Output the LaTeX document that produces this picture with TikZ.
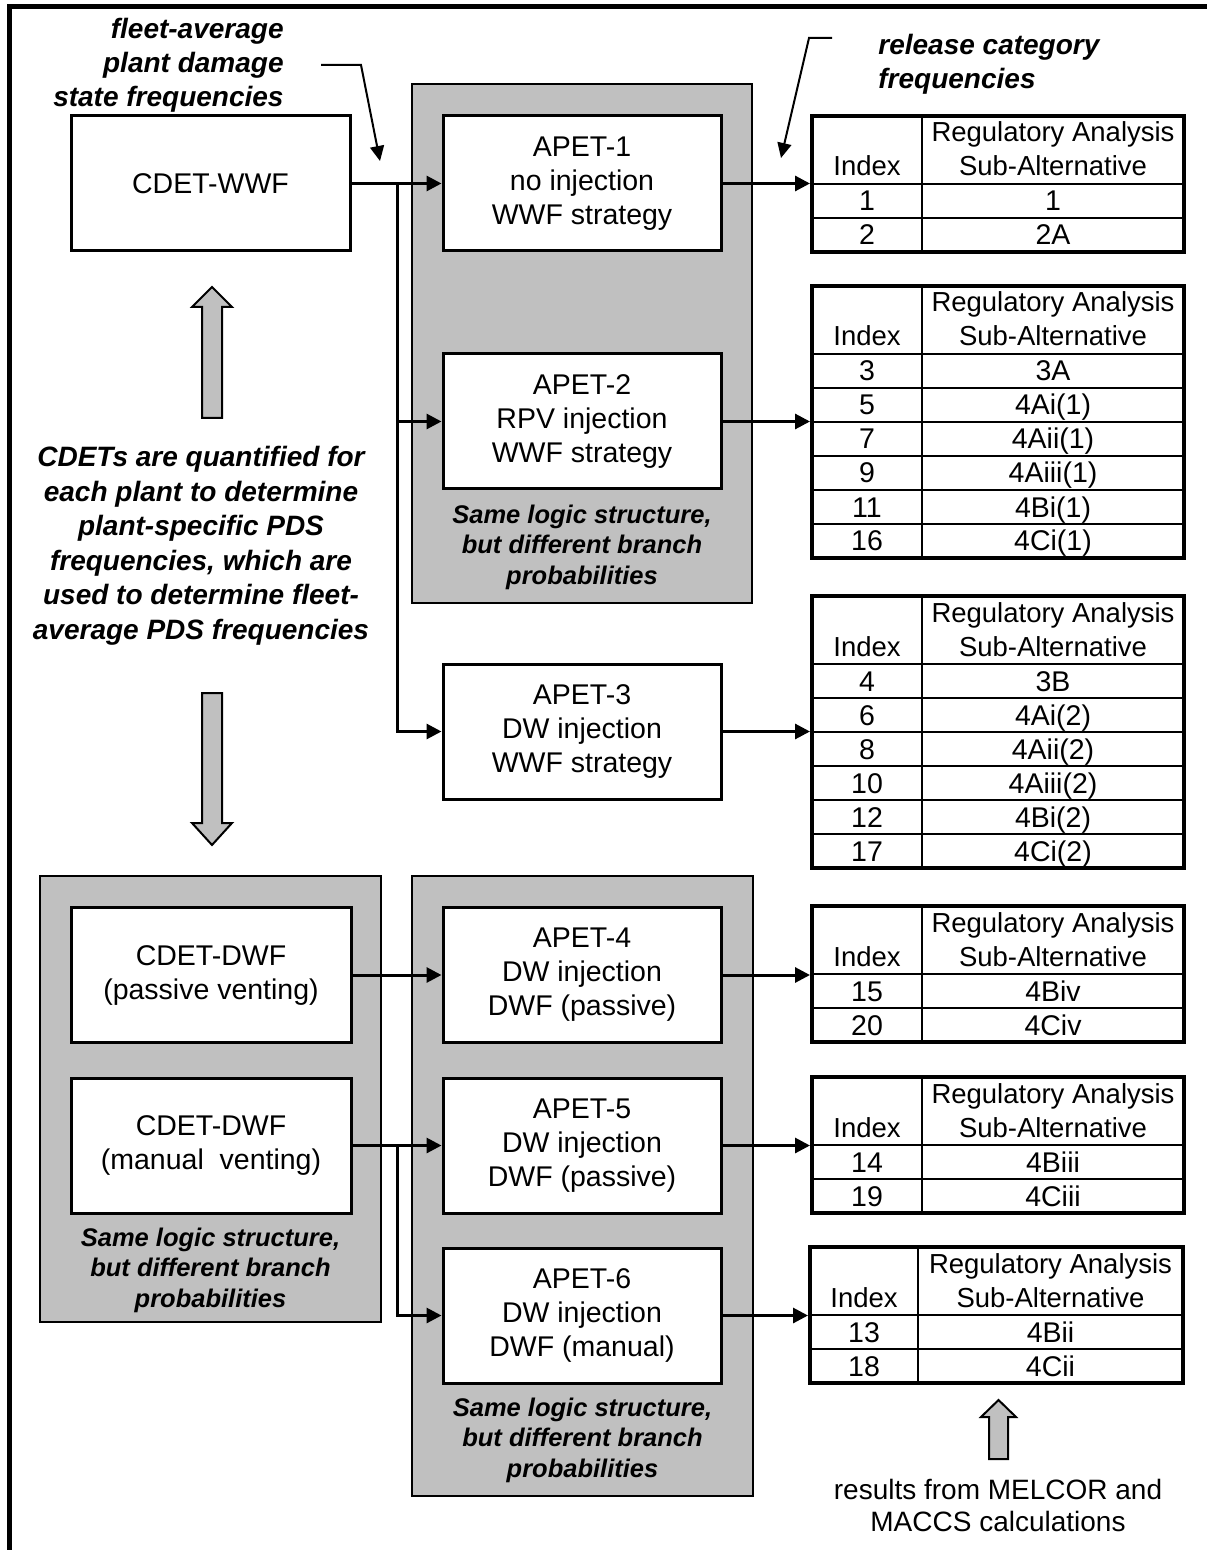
\documentclass[tikz,border=0pt]{standalone}
\usepackage{fontspec}
\setmainfont{Liberation Sans}
\usetikzlibrary{arrows.meta,fit}

\definecolor{panel}{HTML}{C0C0C0}

\tikzset{
  box/.style={draw, line width=1.5pt, fill=white, minimum width=139pt,
    minimum height=67.5pt, align=center, inner sep=0pt,
    font=\fontsize{14.25}{17}\selectfont},
  panelbox/.style={draw, line width=1pt, fill=panel, inner sep=0pt},
  link/.style={line width=1.5pt, line join=miter, -{Triangle[length=7.5pt,width=7.5pt]}},
  note/.style={font=\fontsize{14}{17}\selectfont\bfseries\itshape, inner sep=0pt},
  caption/.style={font=\fontsize{12.75}{15.25}\selectfont\bfseries\itshape,
    align=center, inner sep=0pt},
  plain/.style={font=\fontsize{14}{16}\selectfont, align=center, inner sep=0pt},
  tframe/.style={draw, line width=2pt, inner sep=0pt},
  tline/.style={line width=1.1pt},
  thead/.style={font=\fontsize{13.75}{16}\selectfont, inner sep=0pt, anchor=base},
  tcell/.style={font=\fontsize{14.25}{16}\selectfont, inner sep=0pt, anchor=base},
  bigarrow/.style={draw, line width=1pt, fill=panel, line join=miter},
}

% release-category table: name, left, top, column divider, right, rows, index/label list
\newcommand\regtable[7]{%
  \pgfmathsetmacro\tbot{#3+68+34*#6}
  \draw[tline] (#4,#3) -- (#4,\tbot);
  \draw[tline] (#2,{#3+68}) -- (#5,{#3+68});
  \foreach \idx/\lab [count=\k] in {#7} {
    \ifnum\k<#6\relax
      \draw[tline] (#2,{#3+68+34*\k}) -- (#5,{#3+68+34*\k});
    \fi
    \node[tcell] (#1-i\k) at ({(#2+#4)/2},{#3+68+34*\k-7}) {\idx};
    \node[tcell] (#1-s\k) at ({(#4+#5)/2},{#3+68+34*\k-7}) {\lab};
  }
  \node[thead] (#1-h1) at ({(#4+#5)/2},{#3+26}) {Regulatory Analysis};
  \node[thead] (#1-h2) at ({(#4+#5)/2},{#3+60}) {Sub-Alternative};
  \node[thead] (#1-h0) at ({(#2+#4)/2},{#3+60}) {Index};
  \node[tframe, fit={(#2,#3) (#5,\tbot)}] (#1) {};
}

\begin{document}
\begin{tikzpicture}[x=0.5pt,y=-0.5pt]
\useasboundingbox (0,0) rectangle (1206,1550);

% outer frame (top and left edges)
\draw[line width=2.5pt, line join=miter] (9.5,1560) -- (9.5,6.5) -- (1216,6.5);

% grey panels
\node[panelbox, minimum width=170pt, minimum height=259.5pt] (g1) at (582,343.5) {};
\node[panelbox, minimum width=170.5pt, minimum height=223pt] (g2) at (210.5,1099) {};
\node[panelbox, minimum width=170.5pt, minimum height=310pt] (g3) at (582.5,1186) {};

\node[caption] (c1) at (582,547) {Same logic structure,\\but different branch\\probabilities};
\node[caption] (c2) at (210.5,1270) {Same logic structure,\\but different branch\\probabilities};
\node[caption] (c3) at (582.5,1440) {Same logic structure,\\but different branch\\probabilities};

% event trees
\node[box, minimum width=139.5pt] (cdetw) at (210.5,183.5) {CDET-WWF};
\node[box] (apet1) at (582,183.5) {APET-1\\no injection\\WWF strategy};
\node[box] (apet2) at (582,421.5) {APET-2\\RPV injection\\WWF strategy};
\node[box] (apet3) at (582,731.5) {APET-3\\DW injection\\WWF strategy};
\node[box, minimum width=140pt] (cdetp) at (211,975) {CDET-DWF\\(passive venting)};
\node[box, minimum width=140pt] (cdetm) at (211,1145.5) {CDET-DWF\\(manual\ \ venting)};
\node[box] (apet4) at (582,975) {APET-4\\DW injection\\DWF (passive)};
\node[box] (apet5) at (582,1145.5) {APET-5\\DW injection\\DWF (passive)};
\node[box] (apet6) at (582,1315.5) {APET-6\\DW injection\\DWF (manual)};

% release category tables
\regtable{t1}{812}{116}{922}{1184}{2}{1/1,2/2A}
\regtable{t2}{812}{286}{922}{1184}{6}{3/3A,5/4Ai(1),7/4Aii(1),9/4Aiii(1),11/4Bi(1),16/4Ci(1)}
\regtable{t3}{812}{596}{922}{1184}{6}{4/3B,6/4Ai(2),8/4Aii(2),10/4Aiii(2),12/4Bi(2),17/4Ci(2)}
\regtable{t4}{812}{906}{922}{1184}{2}{15/4Biv,20/4Civ}
\regtable{t5}{812}{1077}{922}{1184}{2}{14/4Biii,19/4Ciii}
\regtable{t6}{810}{1247}{918}{1183}{2}{13/4Bii,18/4Cii}

% connectors
\coordinate (j1) at (397,183.5);
\coordinate (j2) at (397,1145.5);
\draw[link] (cdetw.east) -- (apet1.west);
\draw[link] (j1) |- (apet2.west);
\draw[link] (j1) |- (apet3.west);
\draw[link] (cdetp.east) -- (apet4.west);
\draw[link] (cdetm.east) -- (apet5.west);
\draw[link] (j2) |- (apet6.west);
\foreach \a/\t in {apet1/t1,apet2/t2,apet3/t3,apet4/t4,apet5/t5,apet6/t6}
  \draw[link] (\a.east) -- (\a.east -| \t.west);

% annotations
\node[note, align=right, anchor=east] (fleet) at (284,65)
  {fleet-average\\plant damage\\state frequencies};
\coordinate (fa0) at (321,65);
\coordinate (fa1) at (361,65);
\coordinate (fa2) at (380,161);
\draw[line width=1pt, line join=miter, -{Triangle[length=7.5pt,width=7pt]}] (fa0) -- (fa1) -- (fa2);

\node[note, align=left, anchor=west] (release) at (878,64)
  {release category\\frequencies};
\coordinate (ra0) at (832,38);
\coordinate (ra1) at (809,38);
\coordinate (ra2) at (781,158);
\draw[line width=1pt, line join=miter, -{Triangle[length=7.5pt,width=7pt]}] (ra0) -- (ra1) -- (ra2);

\node[note, align=center, font=\fontsize{14}{17.25}\selectfont\bfseries\itshape] (cdets) at (201,546)
  {CDETs are quantified for\\each plant to determine\\plant-specific PDS\\frequencies, which are\\used to determine fleet-\\average PDS frequencies};

\node[plain] (results) at (998,1505) {results from MELCOR and\\MACCS calculations};

% block arrows
\draw[bigarrow] (202,418) -- (202,307) -- (192,307) -- (212,287) -- (232,307) -- (222,307) -- (222,418) -- cycle;
\draw[bigarrow] (202,693) -- (202,823) -- (192,823) -- (212,845) -- (232,823) -- (222,823) -- (222,693) -- cycle;
\draw[bigarrow] (989,1459) -- (989,1417) -- (981,1417) -- (998.5,1400) -- (1016,1417) -- (1008,1417) -- (1008,1459) -- cycle;
\end{tikzpicture}
\end{document}
